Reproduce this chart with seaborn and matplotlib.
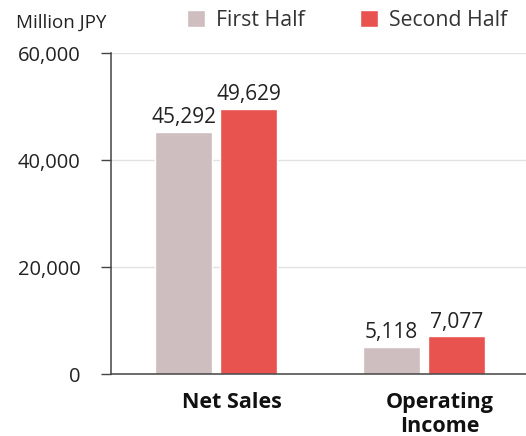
import matplotlib
matplotlib.use("Agg")
import matplotlib.pyplot as plt
import matplotlib.transforms as mtransforms
import seaborn as sns
import pandas as pd
from matplotlib.ticker import FuncFormatter

categories = ["Net Sales", "Operating\nIncome"]
periods = ["First Half", "Second Half"]
first_half = [45292, 5118]
second_half = [49629, 7077]
y_ticks = [0, 20000, 40000, 60000]

df = pd.DataFrame({
    "category": categories * 2,
    "period": [periods[0]] * 2 + [periods[1]] * 2,
    "value": first_half + second_half,
})

sns.set_theme(style="white")
plt.rcParams["font.family"] = ["Open Sans", "DejaVu Sans"]

fig = plt.figure(figsize=(5.26, 4.36), dpi=100)
ax = fig.add_axes([0.211, 0.142, 0.789, 0.736])

palette = {"First Half": "#CEBEBF", "Second Half": "#E8524F"}
sns.barplot(data=df, x="category", y="value", hue="period", order=categories,
            hue_order=periods, palette=palette, width=0.625, gap=0.13,
            saturation=1, ax=ax, legend=True)

for container in ax.containers:
    ax.bar_label(container, labels=[f"{v:,.0f}" for v in container.datavalues],
                 padding=2.5, fontsize=15, color="#222222")

ax.set_xlim(-0.505, 1.49)
ax.set_ylim(0, 60000)
ax.set_yticks(y_ticks)
ax.yaxis.set_major_formatter(FuncFormatter(lambda v, p: f"{v:,.0f}"))
ax.yaxis.grid(True, color="#E2E2E2", linewidth=1)
ax.set_axisbelow(True)
ax.set_xlabel("")
ax.set_ylabel("")

for side in ["top", "right"]:
    ax.spines[side].set_visible(False)
for side in ["left", "bottom"]:
    ax.spines[side].set_color("#444444")
    ax.spines[side].set_linewidth(1.1)

ax.tick_params(axis="y", left=True, length=7, width=1, color="#444444",
               labelsize=14.5, labelcolor="#222222", pad=15)
ax.tick_params(axis="x", bottom=False, labelsize=15.5, labelcolor="#111111", pad=7)
shift = mtransforms.ScaledTranslation(0.16, 0, fig.dpi_scale_trans)
for lbl in ax.get_xticklabels():
    lbl.set_fontweight("bold")
    lbl.set_linespacing(1.15)
    lbl.set_transform(lbl.get_transform() + shift)

handles, labels = ax.get_legend_handles_labels()
ax.legend(handles, labels, loc="center left", bbox_to_anchor=(0.356, 0.953),
          bbox_transform=fig.transFigure, ncol=2, frameon=False,
          handlelength=0.85, handleheight=0.85, handletextpad=0.5,
          columnspacing=2.6, fontsize=15.3, labelcolor="#333333",
          borderaxespad=0, borderpad=0)

fig.text(0.03, 0.947, "Million JPY", fontsize=13.5, color="#222222",
         ha="left", va="center")

fig.savefig("out.png", dpi=100)
